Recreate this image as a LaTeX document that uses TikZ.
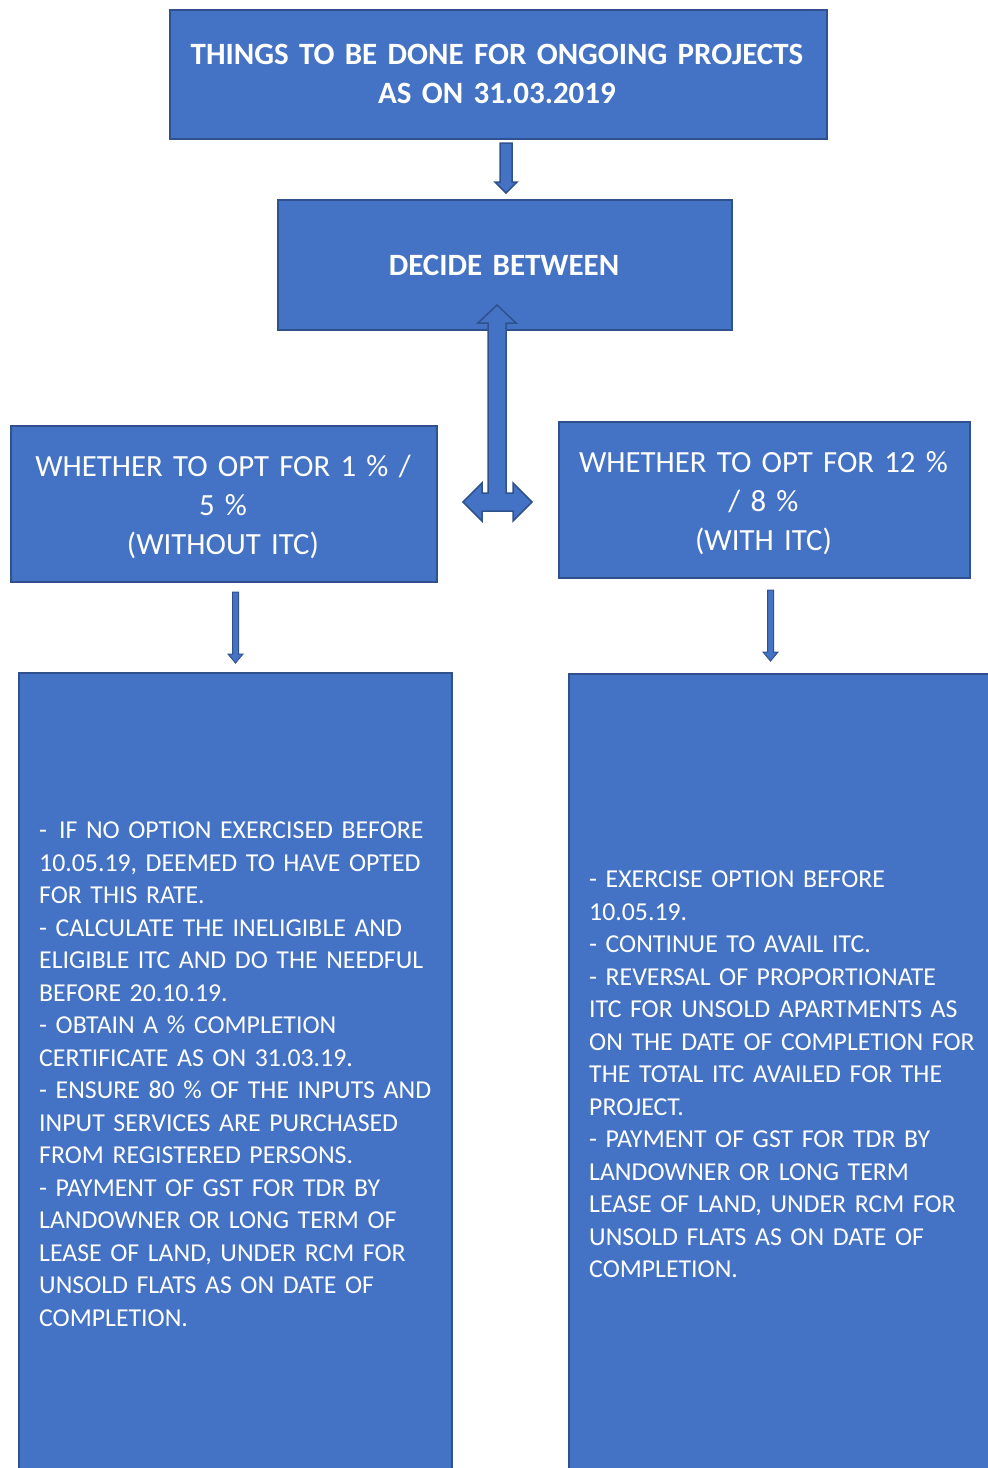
\documentclass[tikz,border=0pt]{standalone}
\usepackage{fontspec}
\setmainfont{Carlito}
\definecolor{boxfill}{HTML}{4472C4}
\definecolor{boxline}{HTML}{2F528F}
\begin{document}
\begin{tikzpicture}[x=1pt,y=-1pt,
  box/.style={draw=boxline, fill=boxfill, line width=2pt, inner sep=0pt, anchor=north west},
  blockarrow/.style={draw=boxline, fill=boxfill, line width=1.5pt, line join=miter},
  headtext/.style={text=white, font=\fontsize{30.8}{39}\selectfont, text width=430pt, align=center, inner sep=0pt, anchor=base},
  titletext/.style={headtext, font=\fontsize{31}{39}\selectfont\bfseries, text width=680pt},
  bodytext/.style={text=white, font=\fontsize{25.8}{32.5}\selectfont, text width=460pt, align=left, inner sep=0pt, anchor=base west}]
\useasboundingbox (0,0) rectangle (988,1468);
\clip (0,0) rectangle (988,1468);
% boxes
\node[box, minimum width=657pt, minimum height=129pt] (title) at (169,9) {};
\node[box, minimum width=454pt, minimum height=130pt] (decide) at (277,199) {};
\node[box, minimum width=426pt, minimum height=156pt] (left) at (10,425) {};
\node[box, minimum width=411pt, minimum height=156pt] (right) at (558,421) {};
\node[box, minimum width=433pt, minimum height=840pt] (leftbody) at (18,672) {};
\node[box, minimum width=440pt, minimum height=840pt] (rightbody) at (568,673) {};
% texts
\node[titletext] (titlet) at (497,64) {THINGS TO BE DONE FOR ONGOING PROJECTS\\AS ON 31.03.2019};
\node[titletext] (decidet) at (504,275) {DECIDE BETWEEN};
\node[headtext] (leftt) at (223,476) {WHETHER TO OPT FOR 1 \% /\\5 \%\\(WITHOUT ITC)};
\node[headtext] (rightt) at (763.5,472) {WHETHER TO OPT FOR 12 \%\\/ 8 \%\\(WITH ITC)};
\node[bodytext] (leftbodyt) at (39,838.5) {-\hspace{12pt}IF NO OPTION EXERCISED BEFORE\\
10.05.19, DEEMED TO HAVE OPTED\\
FOR THIS RATE.\\
- CALCULATE THE INELIGIBLE AND\\
ELIGIBLE ITC AND DO THE NEEDFUL\\
BEFORE 20.10.19.\\
- OBTAIN A \% COMPLETION\\
CERTIFICATE AS ON 31.03.19.\\
- ENSURE 80 \% OF THE INPUTS AND\\
INPUT SERVICES ARE PURCHASED\\
FROM REGISTERED PERSONS.\\
- PAYMENT OF GST FOR TDR BY\\
LANDOWNER OR LONG TERM OF\\
LEASE OF LAND, UNDER RCM FOR\\
UNSOLD FLATS AS ON DATE OF\\
COMPLETION.};
\node[bodytext] (rightbodyt) at (589,887.5) {- EXERCISE OPTION BEFORE\\
10.05.19.\\
- CONTINUE TO AVAIL ITC.\\
- REVERSAL OF PROPORTIONATE\\
ITC FOR UNSOLD APARTMENTS AS\\
ON THE DATE OF COMPLETION FOR\\
THE TOTAL ITC AVAILED FOR THE\\
PROJECT.\\
- PAYMENT OF GST FOR TDR BY\\
LANDOWNER OR LONG TERM\\
LEASE OF LAND, UNDER RCM FOR\\
UNSOLD FLATS AS ON DATE OF\\
COMPLETION.};
% block arrows
\draw[blockarrow] (500,143) -- (512,143) -- (512,182) -- (517,182) -- (506,193) -- (495,182) -- (500,182) -- cycle;
\draw[blockarrow] (497,305) -- (516,323) -- (506,323) -- (506,493) -- (513,493) -- (513,483) -- (532,502)
  -- (513,521) -- (513,511) -- (482,511) -- (482,521) -- (463,502) -- (482,483) -- (482,493)
  -- (488,493) -- (488,323) -- (478,323) -- cycle;
\draw[blockarrow, line width=1pt] (232.5,592) -- (238.5,592) -- (238.5,654) -- (243,654) -- (235.5,663) -- (228,654) -- (232.5,654) -- cycle;
\draw[blockarrow, line width=1pt] (767.5,590) -- (773.5,590) -- (773.5,652) -- (778,652) -- (770.5,661) -- (763,652) -- (767.5,652) -- cycle;
\end{tikzpicture}
\end{document}
